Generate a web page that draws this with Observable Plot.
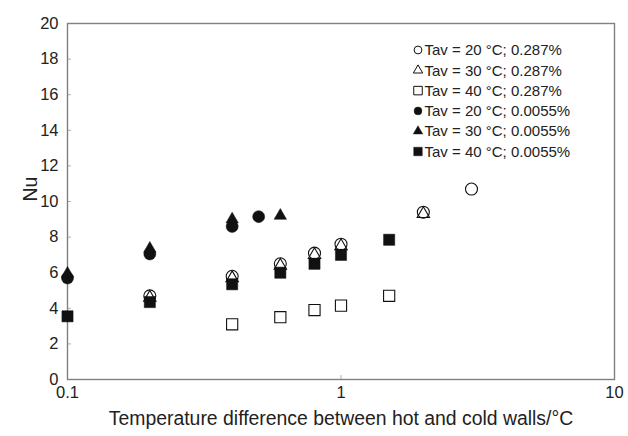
<!DOCTYPE html>
<html>
<head>
<meta charset="utf-8">
<script src="https://cdn.jsdelivr.net/npm/d3@7"></script>
<script src="https://cdn.jsdelivr.net/npm/@observablehq/plot@0.6"></script>
<style>
  html, body { margin: 0; padding: 0; background: #fff; }
  #chart { position: relative; width: 628px; height: 436px; }
  svg { font-family: "Liberation Sans", Arial, sans-serif; }
</style>
</head>
<body>
<div id="chart"></div>
<script>
// ---- data ----
const seriesNames = [
  "Tav = 20 °C; 0.287%",
  "Tav = 30 °C; 0.287%",
  "Tav = 40 °C; 0.287%",
  "Tav = 20 °C; 0.0055%",
  "Tav = 30 °C; 0.0055%",
  "Tav = 40 °C; 0.0055%"
];
const seriesSymbols = ["circle", "triangle", "square", "circle", "triangle", "square"];
const seriesFilled = [false, false, false, true, true, true];

const open20x = [0.2, 0.4, 0.6, 0.8, 1, 2, 3];
const open20y = [4.7, 5.8, 6.5, 7.1, 7.6, 9.4, 10.7];
const open30x = [0.2, 0.4, 0.6, 0.8, 1, 2];
const open30y = [4.6, 5.7, 6.4, 7.0, 7.5, 9.3];
const open40x = [0.4, 0.6, 0.8, 1, 1.5];
const open40y = [3.1, 3.5, 3.9, 4.15, 4.7];
const fill20x = [0.1, 0.2, 0.4, 0.5];
const fill20y = [5.7, 7.05, 8.6, 9.15];
const fill30x = [0.1, 0.2, 0.4, 0.6];
const fill30y = [5.95, 7.35, 9.0, 9.2];
const fill40x = [0.1, 0.2, 0.4, 0.6, 0.8, 1, 1.5];
const fill40y = [3.55, 4.35, 5.35, 6.0, 6.5, 7.0, 7.85];

const xTicks = [0.1, 1, 10];
const yTicks = [0, 2, 4, 6, 8, 10, 12, 14, 16, 18, 20];
const xLabel = "Temperature difference between hot and cold walls/°C";
const yLabel = "Nu";

const xs = [open20x, open30x, open40x, fill20x, fill30x, fill40x];
const ys = [open20y, open30y, open40y, fill20y, fill30y, fill40y];
const series = xs.map((xv, i) => xv.map((x, j) => ({x, y: ys[i][j], s: i})));

const symR = {circle: 6, triangle: 4.6, square: 6.3};
const axisColor = "#808080";

const dotMarks = series.map((data, i) => Plot.dot(data, {
  x: "x", y: "y",
  symbol: () => seriesSymbols[i],
  r: symR[seriesSymbols[i]],
  fill: seriesFilled[i] ? "#111" : "none",
  stroke: "#111",
  strokeWidth: seriesFilled[i] ? 0.5 : 1.1
}));

const plot = Plot.plot({
  width: 628,
  height: 436,
  marginLeft: 67,
  marginRight: 14,
  marginTop: 23,
  marginBottom: 57,
  style: {fontFamily: "Liberation Sans, Arial, sans-serif", background: "#fff"},
  x: {type: "log", domain: [0.1, 10]},
  y: {domain: [0, 20]},
  symbol: {type: "identity"},
  marks: [
    Plot.axisY({ticks: yTicks, tickSize: -4, tickPadding: 13, fontSize: 16.5, stroke: "#b0b0b0", fill: "#222", label: null}),
    Plot.axisX({ticks: xTicks, tickFormat: d => String(d), tickSize: -4, tickPadding: 11, fontSize: 16.5, stroke: "#b0b0b0", fill: "#222", label: null}),
    Plot.frame({stroke: axisColor, strokeWidth: 1.4}),
    Plot.text([xLabel], {frameAnchor: "bottom", dy: 45, fontSize: 19.4, fill: "#222"}),
    Plot.text([yLabel], {frameAnchor: "left", dx: -37, rotate: -90, fontSize: 19.4, fill: "#222"}),
    ...dotMarks
  ]
});
document.getElementById("chart").appendChild(plot);

// ---- legend (inside the svg) ----
const svg = d3.select(plot);
const lg = svg.append("g").attr("transform", "translate(418,50)");
const symMap = {circle: d3.symbolCircle, triangle: d3.symbolTriangle, square: d3.symbolSquare};
const symSize = {circle: 48, triangle: 38, square: 72};
seriesNames.forEach((name, i) => {
  const row = lg.append("g").attr("transform", `translate(0,${i * 20.3})`);
  row.append("path")
    .attr("d", d3.symbol(symMap[seriesSymbols[i]], symSize[seriesSymbols[i]])())
    .attr("fill", seriesFilled[i] ? "#111" : "none")
    .attr("stroke", "#111")
    .attr("stroke-width", seriesFilled[i] ? 0.5 : 1);
  row.append("text")
    .attr("x", 6.5)
    .attr("dy", "0.35em")
    .attr("text-anchor", "start")
    .attr("font-size", 15)
    .attr("fill", "#222")
    .text(name);
});
</script>
</body>
</html>
